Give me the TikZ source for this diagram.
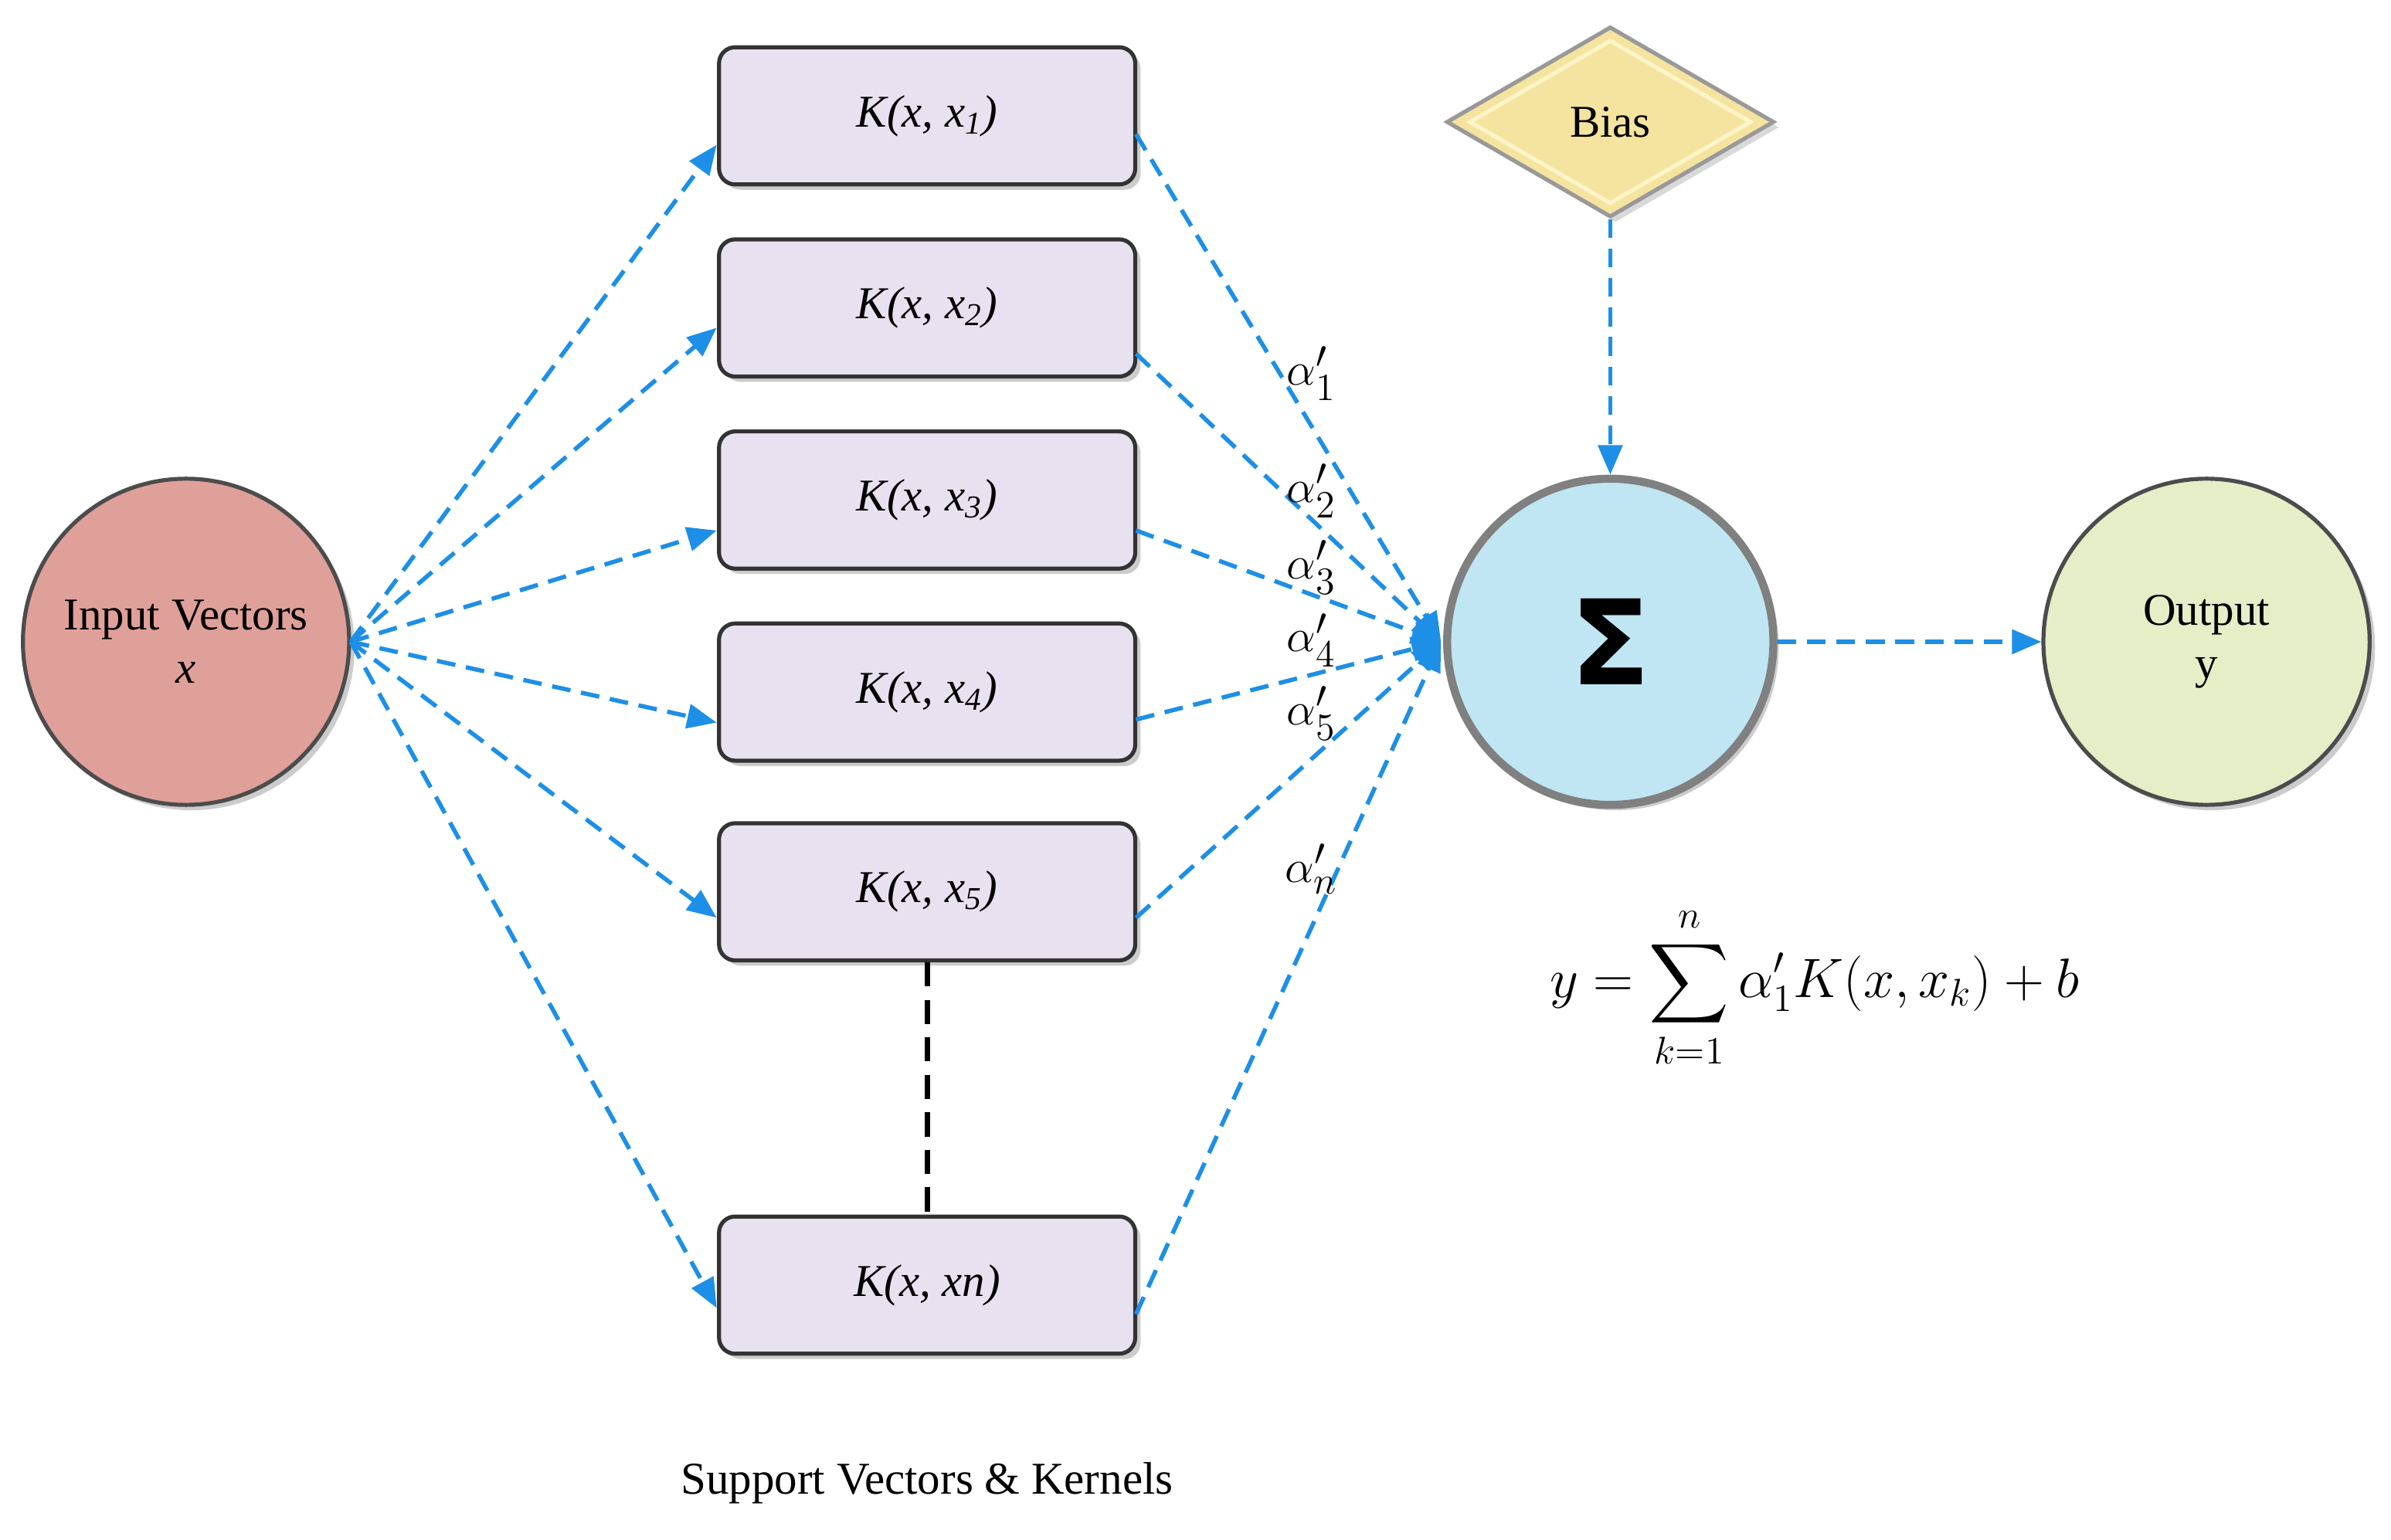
\documentclass[tikz,border=0pt]{standalone}
\usepackage{amsmath}
\usepackage{fontspec}
\setmainfont{Liberation Serif}
\newfontfamily\sigfont{DejaVu Sans}
\usetikzlibrary{shapes.geometric,arrows.meta,shadows}
\begin{document}
\begin{tikzpicture}[x=0.02cm,y=-0.02cm,font=\fontsize{17}{20}\selectfont,
 circ/.style={circle,minimum size=4.28cm,draw=black!70,line width=1.5pt,align=center,drop shadow={shadow xshift=2pt,shadow yshift=-2pt,opacity=0.4}},
 box/.style={rectangle,rounded corners=6pt,minimum width=5.46cm,minimum height=1.8cm,draw=black!80,line width=1.5pt,fill=boxc,drop shadow={shadow xshift=2pt,shadow yshift=-2pt,opacity=0.4}},
 arr/.style={draw=arrc,line width=1.6pt,dash pattern=on 7pt off 4pt,-{Triangle[length=11pt,width=9pt]}}]
\definecolor{boxc}{HTML}{E8E2F0}
\definecolor{arrc}{HTML}{1E8FE6}
\useasboundingbox (0,0) rectangle (1568,1010);
\node[circ,fill={rgb,255:red,224;green,160;blue,154}] (in) at (122,421) {Input Vectors\\\textit{x}};
\node[circ,fill={rgb,255:red,191;green,230;blue,242},draw=black!50,line width=3pt] (sig) at (1056,421) {\sigfont\bfseries\fontsize{44}{44}\selectfont Σ};
\node[circ,fill={rgb,255:red,230;green,238;blue,200}] (out) at (1447,421) {Output\\y};
\node[diamond,aspect=1.7,minimum width=4.3cm,minimum height=2.5cm,draw=black!40,line width=1.5pt,fill={rgb,255:red,245;green,228;blue,160},inner sep=0pt,drop shadow={shadow xshift=2pt,shadow yshift=-2pt,opacity=0.3}] (bias) at (1056,80) {};
\node[diamond,aspect=1.7,minimum width=3.7cm,minimum height=2.15cm,draw={rgb,255:red,255;green,245;blue,200},line width=1.5pt,inner sep=0pt] (bi) at (1056,80) {Bias};
\node[box] (k1) at (608,76) {\textit{K(x, x\textsubscript{1})}};
\node[box] (k2) at (608,202) {\textit{K(x, x\textsubscript{2})}};
\node[box] (k3) at (608,328) {\textit{K(x, x\textsubscript{3})}};
\node[box] (k4) at (608,454) {\textit{K(x, x\textsubscript{4})}};
\node[box] (k5) at (608,585) {\textit{K(x, x\textsubscript{5})}};
\node[box] (kn) at (608,843) {\textit{K(x, xn)}};
\draw[line width=2pt,dash pattern=on 9pt off 5pt] (k5.south) -- (kn.north);
\coordinate (s) at (230,421);
\coordinate (t) at (945,421);
\foreach \k/\yy in {k1/95,k2/215,k3/348,k4/474,k5/602,kn/858}{
  \draw[arr] (s) -- (470,\yy);
}
\foreach \k/\yy in {k1/88,k2/232,k3/348,k4/472,k5/602,kn/862}{
  \draw[arr] (745,\yy) -- (t);
}
\draw[arr] (bias.south) -- (sig.north);
\draw[arr] (sig.east) -- (out.west);
\node (a1) at (860,245) {\fontsize{19}{22}\selectfont$\alpha'_1$};
\node (a2) at (860,322) {\fontsize{19}{22}\selectfont$\alpha'_2$};
\node (a3) at (860,372) {\fontsize{19}{22}\selectfont$\alpha'_3$};
\node (a4) at (860,420) {\fontsize{19}{22}\selectfont$\alpha'_4$};
\node (a5) at (860,468) {\fontsize{19}{22}\selectfont$\alpha'_5$};
\node (an) at (860,570) {\fontsize{19}{22}\selectfont$\alpha'_n$};
\node (f) at (1190,648) {\fontsize{21}{24}\selectfont$\displaystyle y=\sum_{k=1}^{n}\alpha'_1K(x,x_k)+b$};
\node (cap) at (608,973) {Support Vectors \& Kernels};
\end{tikzpicture}
\end{document}
